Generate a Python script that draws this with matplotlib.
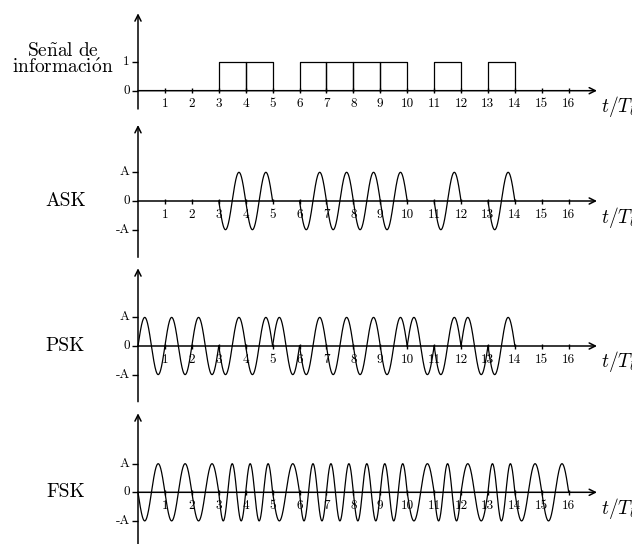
import matplotlib
matplotlib.use('Agg')
import matplotlib.pyplot as plt
import numpy as np

plt.rcParams['font.family'] = 'cmr10'
plt.rcParams['mathtext.fontset'] = 'cm'
plt.rcParams['axes.unicode_minus'] = False

# data
bits = [0, 0, 0, 1, 1, 0, 1, 1, 1, 1, 0, 1, 0, 1, 0, 0]
x_ticks = list(range(1, 17))
psk_end = 14          # PSK drawn up to t/Tb = 14
f0, f1 = 1.0, 1.5     # FSK cycles per bit for 0 and 1
info_yticks = [0, 1]
info_ylabels = ['0', '1']
mod_yticks = [-1, 0, 1]
mod_ylabels = ['-A', '0', 'A']
names = [r'$\mathrm{Se\tilde{n}al\ de}$' + '\n' + r'$\mathrm{informaci\acute{o}n}$', 'ASK', 'PSK', 'FSK']

W, H = 632, 544
fig = plt.figure(figsize=(W / 100, H / 100), dpi=100)

px0, pxunit = 138, 26.92
xlo, xhi = -px0 / pxunit, (W - px0) / pxunit


def panel(top, bot, zero, unit, ytop, ybot):
    ax = fig.add_axes([0, 1 - bot / H, 1, (bot - top) / H])
    ax.set_xlim(xlo, xhi)
    ax.set_ylim((zero - bot) / unit, (zero - top) / unit)
    ax.axis('off')
    ap = dict(arrowstyle='->', lw=1.1, color='k', shrinkA=0, shrinkB=0, mutation_scale=11)
    ax.annotate('', xy=(17.05, 0), xytext=(0, 0), arrowprops=ap)
    ax.annotate('', xy=(0, (zero - ytop) / unit), xytext=(0, (zero - ybot) / unit), arrowprops=ap)
    ax.vlines(x_ticks, -2.5 / unit, 2.5 / unit, color='k', lw=1.0)
    for k in x_ticks:
        ax.text(k, -7.5 / unit, str(k), ha='center', va='top', fontsize=9.5)
    ax.text(17.2, -16 / unit, r'$t/T_b$', ha='left', va='center', fontsize=14)
    return ax


axes = [
    panel(0, 115, 90.7, 29.0, 13.3, 109),
    panel(115, 262, 201, 28.7, 125, 257.3),
    panel(262, 408, 346, 28.6, 268.3, 401.7),
    panel(408, 544, 492.3, 28.6, 413.3, 560),
]

# y ticks
ax = axes[0]
ax.hlines(info_yticks, -0.22, 0, color='k', lw=1.0)
for y, s in zip(info_yticks, info_ylabels):
    ax.text(-0.3, y, s, ha='right', va='center', fontsize=9.5)
for ax in axes[1:]:
    ax.hlines(mod_yticks, -0.22, 0, color='k', lw=1.0)
    for y, s in zip(mod_yticks, mod_ylabels):
        ax.text(-0.3, y, s, ha='right', va='center', fontsize=9.5)

# left labels
axes[0].text(-2.8, 1.06, names[0], ha='center', va='center', fontsize=14, linespacing=0.85)
for ax, n in zip(axes[1:], names[1:]):
    ax.text(-2.7, 0, n, ha='center', va='center', fontsize=14)

lw = 0.9
n = 200
# information signal
for k, b in enumerate(bits):
    if b:
        axes[0].plot([k, k, k + 1, k + 1], [0, 1, 1, 0], color='k', lw=lw)

# ASK
for k, b in enumerate(bits):
    if b:
        t = np.linspace(k, k + 1, n)
        axes[1].plot(t, -np.sin(2 * np.pi * t), color='k', lw=lw)

# PSK
for k, b in enumerate(bits[:psk_end]):
    t = np.linspace(k, k + 1, n)
    sign = -1 if b else 1
    axes[2].plot(t, sign * np.sin(2 * np.pi * t), color='k', lw=lw)

# FSK (continuous phase)
phase = 0.0
for k, b in enumerate(bits):
    f = f1 if b else f0
    t = np.linspace(k, k + 1, n)
    axes[3].plot(t, -np.sin(2 * np.pi * (phase + f * (t - k))), color='k', lw=lw)
    phase += f

fig.savefig('out.png', dpi=100)
